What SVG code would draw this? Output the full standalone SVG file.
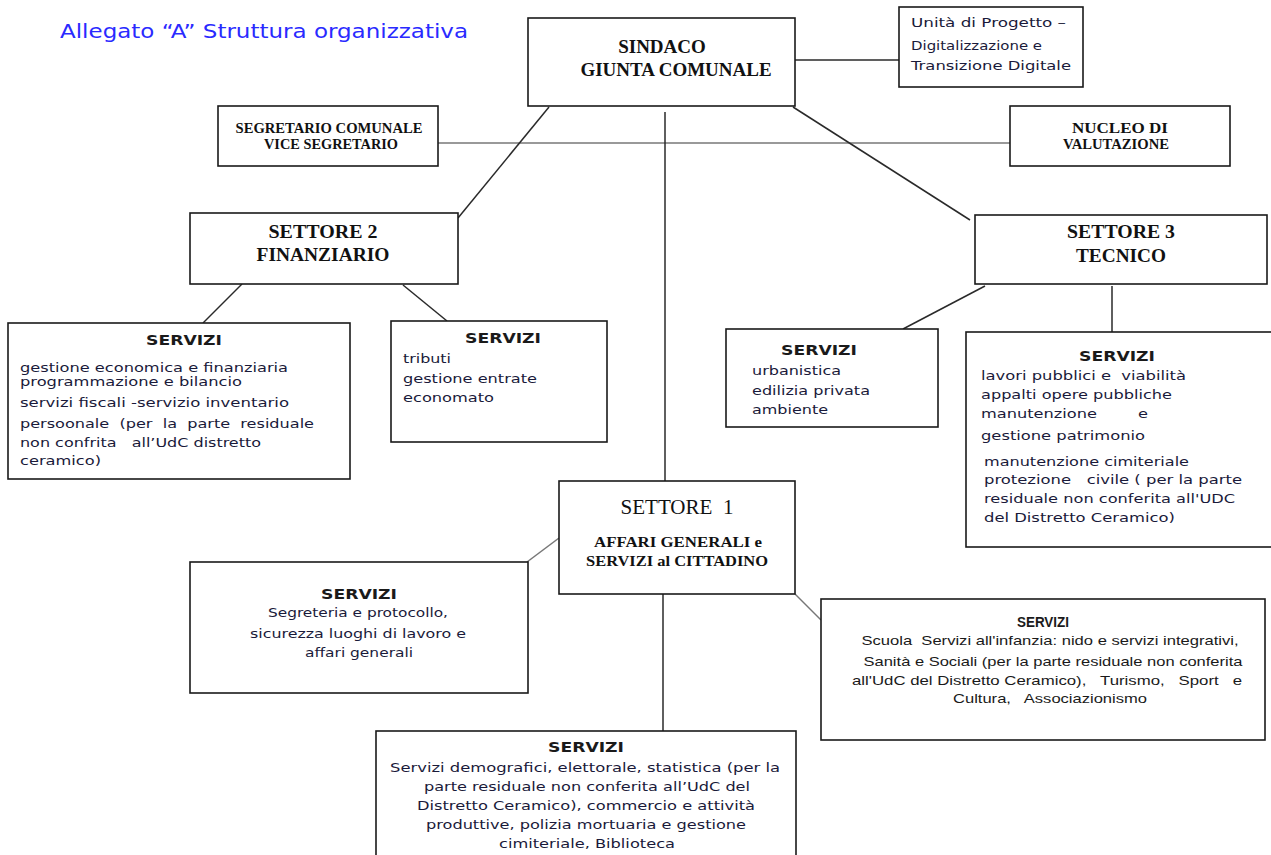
<svg xmlns="http://www.w3.org/2000/svg" width="1271" height="855" viewBox="0 0 1271 855">
<style>
text{white-space:pre}
.box{fill:#fff;stroke:#1a1a1a;stroke-width:1.6}
.ln{stroke:#2a2a2a;stroke-width:1.5;fill:none}
.lg{stroke:#777;stroke-width:1.5;fill:none}
.sb{font-family:"Liberation Serif",serif;font-weight:bold;fill:#111}
.sr{font-family:"Liberation Serif",serif;fill:#111}
.v{font-family:"DejaVu Sans",Verdana,sans-serif;font-size:13px;fill:#1a1a3a}
.vb{font-family:"DejaVu Sans",Verdana,sans-serif;font-size:14px;font-weight:bold;fill:#1a1a1a}
.a{font-family:"Liberation Sans",Arial,sans-serif;font-size:13px;fill:#1a1a1a}
.ab{font-family:"Liberation Sans",Arial,sans-serif;font-size:14px;font-weight:bold;fill:#1a1a1a}
.c{text-anchor:middle}
</style>
<rect width="1271" height="855" fill="#fff"/>
<text x="60" y="38" font-family="DejaVu Sans,Verdana,sans-serif" font-size="19" fill="#2a2aff" textLength="408" lengthAdjust="spacingAndGlyphs">Allegato “A” Struttura organizzativa</text>
<g id="connectors">
<line class="ln" x1="795" y1="60" x2="899" y2="60"/>
<line class="lg" x1="438" y1="143" x2="1010" y2="143"/>
<line class="ln" x1="549" y1="107" x2="458" y2="218"/>
<line class="ln" x1="665" y1="112" x2="665" y2="481"/>
<line class="ln" x1="793" y1="107" x2="970" y2="220"/>
<line class="ln" x1="242" y1="284" x2="203" y2="323"/>
<line class="ln" x1="403" y1="285" x2="447" y2="321"/>
<line class="ln" x1="985" y1="286" x2="903" y2="329"/>
<line class="ln" x1="1112" y1="286" x2="1112" y2="332"/>
<line class="lg" x1="559" y1="538" x2="527" y2="562"/>
<line class="lg" x1="795" y1="594" x2="821" y2="620"/>
<line class="ln" x1="663" y1="586" x2="663" y2="731"/>
</g>
<g id="sindaco">
<rect class="box" x="528" y="18" width="267" height="88"/>
<text class="sb c" x="662" y="53" font-size="19">SINDACO</text>
<text class="sb c" x="676" y="76" font-size="19">GIUNTA COMUNALE</text>
</g>
<g id="unita">
<rect class="box" x="899" y="7" width="184" height="80"/>
<text class="v" x="911" y="27" textLength="155" lengthAdjust="spacingAndGlyphs">Unità di Progetto –</text>
<text class="v" x="911" y="50" textLength="131" lengthAdjust="spacingAndGlyphs">Digitalizzazione e</text>
<text class="v" x="911" y="70" textLength="160" lengthAdjust="spacingAndGlyphs">Transizione Digitale</text>
</g>
<g id="segretario">
<rect class="box" x="218" y="106" width="220" height="60"/>
<text class="sb c" x="329" y="133" font-size="14" textLength="187" lengthAdjust="spacingAndGlyphs">SEGRETARIO COMUNALE</text>
<text class="sb c" x="331" y="149" font-size="14" textLength="134" lengthAdjust="spacingAndGlyphs">VICE SEGRETARIO</text>
</g>
<g id="nucleo">
<rect class="box" x="1010" y="106" width="220" height="60"/>
<text class="sb c" x="1120" y="133" font-size="14" textLength="96" lengthAdjust="spacingAndGlyphs">NUCLEO DI</text>
<text class="sb c" x="1116" y="149" font-size="14" textLength="106" lengthAdjust="spacingAndGlyphs">VALUTAZIONE</text>
</g>
<g id="settore2">
<rect class="box" x="190" y="213" width="268" height="71"/>
<text class="sb c" x="323" y="238" font-size="19.5" textLength="109" lengthAdjust="spacingAndGlyphs">SETTORE 2</text>
<text class="sb c" x="323" y="261" font-size="19.5" textLength="133" lengthAdjust="spacingAndGlyphs">FINANZIARIO</text>
</g>
<g id="settore3">
<rect class="box" x="975" y="215" width="292" height="69"/>
<text class="sb c" x="1121" y="238" font-size="19.5" textLength="108" lengthAdjust="spacingAndGlyphs">SETTORE 3</text>
<text class="sb c" x="1121" y="262" font-size="19.5" textLength="90" lengthAdjust="spacingAndGlyphs">TECNICO</text>
</g>
<g id="servizi-finanziari">
<rect class="box" x="8" y="323" width="342" height="156"/>
<text class="vb c" x="184" y="345" textLength="76" lengthAdjust="spacingAndGlyphs">SERVIZI</text>
<text class="v" x="20" y="372" textLength="268" lengthAdjust="spacingAndGlyphs">gestione economica e finanziaria</text>
<text class="v" x="20" y="386" textLength="222" lengthAdjust="spacingAndGlyphs">programmazione e bilancio</text>
<text class="v" x="20" y="407" textLength="269" lengthAdjust="spacingAndGlyphs">servizi fiscali -servizio inventario</text>
<text class="v" x="20" y="428" textLength="294" lengthAdjust="spacingAndGlyphs">persoonale  (per  la  parte  residuale</text>
<text class="v" x="20" y="447" textLength="241" lengthAdjust="spacingAndGlyphs">non confrita   all’UdC distretto</text>
<text class="v" x="20" y="465" textLength="81" lengthAdjust="spacingAndGlyphs">ceramico)</text>
</g>
<g id="servizi-tributi">
<rect class="box" x="391" y="321" width="216" height="121"/>
<text class="vb c" x="503" y="343" textLength="76" lengthAdjust="spacingAndGlyphs">SERVIZI</text>
<text class="v" x="403" y="363" textLength="48" lengthAdjust="spacingAndGlyphs">tributi</text>
<text class="v" x="403" y="383" textLength="134" lengthAdjust="spacingAndGlyphs">gestione entrate</text>
<text class="v" x="403" y="402" textLength="91" lengthAdjust="spacingAndGlyphs">economato</text>
</g>
<g id="servizi-urbanistica">
<rect class="box" x="726" y="329" width="212" height="98"/>
<text class="vb c" x="819" y="355" textLength="76" lengthAdjust="spacingAndGlyphs">SERVIZI</text>
<text class="v" x="752" y="375" textLength="89" lengthAdjust="spacingAndGlyphs">urbanistica</text>
<text class="v" x="752" y="395" textLength="118" lengthAdjust="spacingAndGlyphs">edilizia privata</text>
<text class="v" x="752" y="414" textLength="76" lengthAdjust="spacingAndGlyphs">ambiente</text>
</g>
<g id="servizi-lavori">
<rect class="box" x="966" y="332" width="310" height="215"/>
<text class="vb c" x="1117" y="361" textLength="76" lengthAdjust="spacingAndGlyphs">SERVIZI</text>
<text class="v" x="981" y="380" textLength="205" lengthAdjust="spacingAndGlyphs">lavori pubblici e  viabilità</text>
<text class="v" x="981" y="399" textLength="191" lengthAdjust="spacingAndGlyphs">appalti opere pubbliche</text>
<text class="v" x="981" y="418" textLength="167" lengthAdjust="spacingAndGlyphs">manutenzione        e</text>
<text class="v" x="981" y="440" textLength="164" lengthAdjust="spacingAndGlyphs">gestione patrimonio</text>
<text class="v" x="984" y="466" textLength="205" lengthAdjust="spacingAndGlyphs">manutenzione cimiteriale</text>
<text class="v" x="984" y="484" textLength="258" lengthAdjust="spacingAndGlyphs">protezione   civile ( per la parte</text>
<text class="v" x="984" y="503" textLength="251" lengthAdjust="spacingAndGlyphs">residuale non conferita all'UDC</text>
<text class="v" x="984" y="522" textLength="191" lengthAdjust="spacingAndGlyphs">del Distretto Ceramico)</text>
</g>
<g id="settore1">
<rect class="box" x="559" y="481" width="236" height="113"/>
<text class="sr c" x="677" y="514" font-size="21" textLength="113" lengthAdjust="spacingAndGlyphs">SETTORE  1</text>
<text class="sb c" x="678" y="547" font-size="14" textLength="168" lengthAdjust="spacingAndGlyphs">AFFARI GENERALI e</text>
<text class="sb c" x="677" y="566" font-size="14" textLength="182" lengthAdjust="spacingAndGlyphs">SERVIZI al CITTADINO</text>
</g>
<g id="servizi-segreteria">
<rect class="box" x="190" y="562" width="338" height="131"/>
<text class="vb c" x="359" y="599" textLength="76" lengthAdjust="spacingAndGlyphs">SERVIZI</text>
<text class="v c" x="358" y="617" textLength="180" lengthAdjust="spacingAndGlyphs">Segreteria e protocollo,</text>
<text class="v c" x="358" y="638" textLength="216" lengthAdjust="spacingAndGlyphs">sicurezza luoghi di lavoro e</text>
<text class="v c" x="359" y="657" textLength="108" lengthAdjust="spacingAndGlyphs">affari generali</text>
</g>
<g id="servizi-scuola">
<rect class="box" x="821" y="599" width="444" height="141"/>
<text class="ab c" x="1043" y="627" textLength="52" lengthAdjust="spacingAndGlyphs">SERVIZI</text>
<text class="a c" x="1050" y="645" textLength="377" lengthAdjust="spacingAndGlyphs">Scuola  Servizi all'infanzia: nido e servizi integrativi,</text>
<text class="a c" x="1053" y="666" textLength="379" lengthAdjust="spacingAndGlyphs">Sanità e Sociali (per la parte residuale non conferita</text>
<text class="a c" x="1047" y="685" textLength="390" lengthAdjust="spacingAndGlyphs">all'UdC del Distretto Ceramico),   Turismo,   Sport   e</text>
<text class="a c" x="1050" y="703" textLength="194" lengthAdjust="spacingAndGlyphs">Cultura,   Associazionismo</text>
</g>
<g id="servizi-demografici">
<rect class="box" x="376" y="731" width="420" height="130"/>
<text class="vb c" x="586" y="752" textLength="76" lengthAdjust="spacingAndGlyphs">SERVIZI</text>
<text class="v c" x="585" y="772" textLength="390" lengthAdjust="spacingAndGlyphs">Servizi demografici, elettorale, statistica (per la</text>
<text class="v c" x="587" y="791" textLength="326" lengthAdjust="spacingAndGlyphs">parte residuale non conferita all’UdC del</text>
<text class="v c" x="586" y="810" textLength="338" lengthAdjust="spacingAndGlyphs">Distretto Ceramico), commercio e attività</text>
<text class="v c" x="586" y="829" textLength="320" lengthAdjust="spacingAndGlyphs">produttive, polizia mortuaria e gestione</text>
<text class="v c" x="587" y="848" textLength="176" lengthAdjust="spacingAndGlyphs">cimiteriale, Biblioteca</text>
</g>
</svg>
